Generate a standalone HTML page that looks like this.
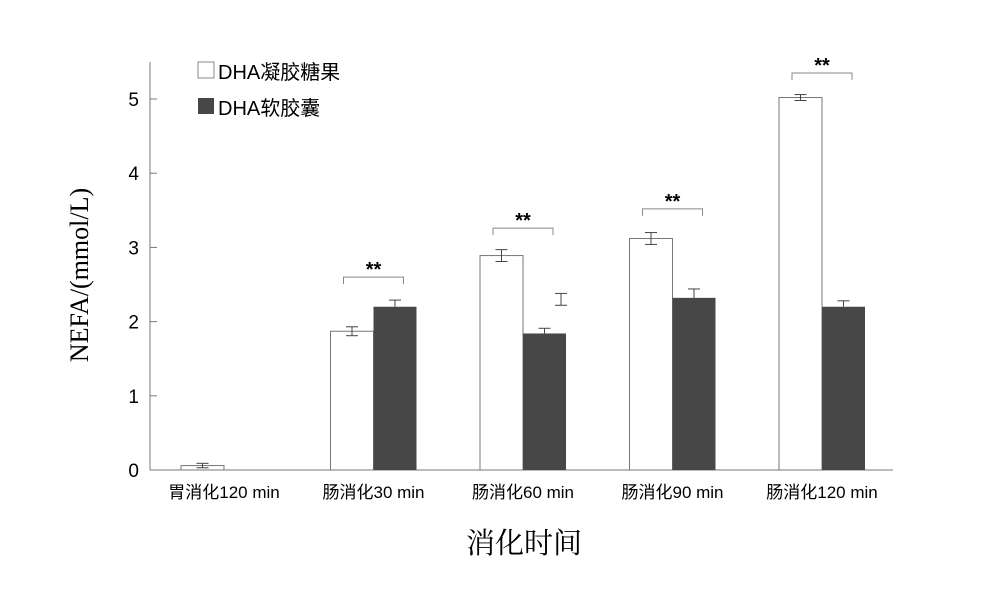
<!DOCTYPE html>
<html><head><meta charset="utf-8"><style>
body{margin:0;background:#fff}
svg text{font-family:"Liberation Sans","Noto Sans CJK SC",sans-serif}
</style></head><body>
<svg width="997" height="586" viewBox="0 0 997 586" xmlns="http://www.w3.org/2000/svg">
<g id="axes"></g><g id="bars"></g>
<text x="88" y="275" transform="rotate(-90 88 275)" text-anchor="middle" font-size="26" style="font-family:'Liberation Serif',serif">NEFA/(mmol/L)</text>
<text x="524" y="553" text-anchor="middle" font-size="29" style="font-family:'Liberation Serif','Noto Serif CJK SC',serif">消化时间</text>
<g>
<rect x="198" y="62" width="16" height="16" fill="#fff" stroke="#888"/>
<text x="218" y="79" font-size="20">DHA凝胶糖果</text>
<rect x="198" y="98" width="16" height="16" fill="#474747"/>
<text x="218" y="115" font-size="20">DHA软胶囊</text>
</g>
</svg>
<script>
const categories=["胃消化120 min","肠消化30 min","肠消化60 min","肠消化90 min","肠消化120 min"];
const gummy=[0.06,1.87,2.89,3.12,5.02];
const gummyErr=[0.03,0.06,0.08,0.08,0.04];
const capsule=[0,2.2,1.84,2.32,2.2];
const capsuleErr=[0,0.09,0.07,0.12,0.08];
const yTicks=[0,1,2,3,4,5];
const sig=["","**","**","**","**"];
const sigLevel=[0,2.6,3.26,3.52,5.35];
const strayErr={group:2,value:2.3,err:0.08};
const NS="http://www.w3.org/2000/svg";
const y=v=>470-v*74.2;
const cx=i=>224+i*149.5;
const bw=43;
function mk(t,a,p){const e=document.createElementNS(NS,t);for(const k in a)e.setAttribute(k,a[k]);p.appendChild(e);return e;}
const ax=document.getElementById('axes'),bg=document.getElementById('bars');
let l=mk('line',{x1:150,y1:62,x2:150,y2:470,stroke:'#777'},ax);


l=mk('line',{x1:150,y1:470,x2:893,y2:470,stroke:'#777'},ax);


yTicks.forEach(v=>{
 mk('line',{x1:150,y1:y(v),x2:157,y2:y(v),stroke:'#777'},ax);
 const t=mk('text',{x:139,y:y(v)+7,'text-anchor':'end','font-size':19},ax);t.textContent=v;
 
 
});
function err(x,v,e,both){
 mk('line',{x1:x,y1:y(v+e),x2:x,y2:both?y(v-e):y(v),stroke:'#444'},bg);
 mk('line',{x1:x-6,y1:y(v+e),x2:x+6,y2:y(v+e),stroke:'#444'},bg);
 if(both)mk('line',{x1:x-6,y1:y(v-e),x2:x+6,y2:y(v-e),stroke:'#444'},bg);
}
categories.forEach((c,i)=>{
 const x=cx(i);
 const r1=mk('rect',{x:x-bw,y:y(gummy[i]),width:bw,height:470-y(gummy[i]),fill:'#fff',stroke:'#777'},bg);
 
 
 err(x-bw/2,gummy[i],gummyErr[i],true);
 if(capsule[i]>0){
  const r2=mk('rect',{x:x,y:y(capsule[i]),width:bw,height:470-y(capsule[i]),fill:'#474747'},bg);
  
  
  err(x+bw/2,capsule[i],capsuleErr[i],false);
 }
 const t=mk('text',{x:x,y:498,'text-anchor':'middle','font-size':17},bg);t.textContent=c;
 
 
 if(sig[i]){
  const sy=y(sigLevel[i]);
  const p=mk('path',{d:`M${x-30},${sy+7}V${sy}H${x+30}V${sy+7}`,fill:'none',stroke:'#888'},bg);
  
  
  const s=mk('text',{x:x,y:sy-1,'text-anchor':'middle','font-size':20,'font-weight':'bold'},bg);s.textContent=sig[i];
  
  
 }
});
err(cx(strayErr.group)+38,strayErr.value,strayErr.err,true);
</script>
</body></html>
